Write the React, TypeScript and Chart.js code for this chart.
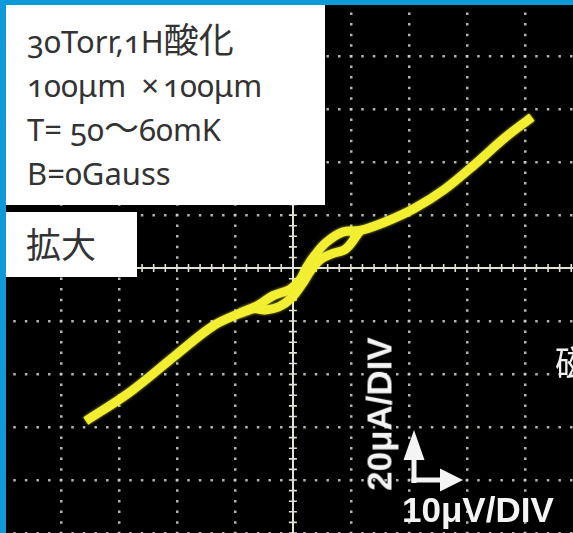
import React, { useEffect, useRef } from "react";
import { Chart, registerables } from "chart.js";

Chart.register(...registerables);

// Oscilloscope X-Y trace: X = voltage (μV), Y = current (μA)
const sweepUpVoltage = [-35.7, -28.1, -20.0, -13.8, -9.1, -6.2, -3.4, -0.5, 1.2, 2.4, 3.8, 5.7, 8.6, 11.6, 15.9, 21.0, 26.2, 31.4, 36.5, 41.2];
const sweepUpCurrent = [-57.7, -46.8, -32.5, -21.9, -17.0, -14.3, -10.4, -8.0, -4.5, 0.4, 4.9, 9.6, 13.6, 14.2, 17.4, 22.6, 29.8, 39.2, 49.1, 57.0];
const sweepDownVoltage = [11.6, 9.1, 6.7, 4.7, 3.1, 1.6, -0.2, -2.4, -4.8, -6.7, -9.1];
const sweepDownCurrent = [14.2, 7.2, 5.4, 3.2, -0.8, -6.0, -11.2, -14.6, -15.8, -15.3, -17.0];

// Graticule: 10 μV/DIV horizontally, 20 μA/DIV vertically
const voltsPerDiv = 10;
const ampsPerDiv = 20;
const minorPerDiv = 5;
const xWindow = [-50.5, 48.3];
const yWindow = [-100, 101.2];

// Texts
const noteLines = ["30Torr,1H酸化", "100μm×100μm", "T= 50〜60mK", "B=0Gauss"];
const zoomLabel = "拡大";
const yUnitLabel = "20μA/DIV";
const xUnitLabel = "10μV/DIV";
const sideLabel = "磁";

const TRACE = "#f2ee30";
const DOT = "rgba(205,205,198,0.88)";
const AXIS = "#e2e2d4";
const DOT_LEN = 2.5;

const isZero = (c: any) => c && c.tick && Math.abs(c.tick.value) < 1e-9;

function dashOffset(start: number, center: number, period: number, dot: number) {
  const r = (((center - start) % period) + period) % period;
  let o = period - (r - dot / 2);
  o = ((o % period) + period) % period;
  return o;
}

const scopePlugin = {
  id: "scopeAxes",
  beforeDatasetsDraw(chart: any) {
    const { ctx, scales } = chart;
    const x = scales.x;
    const y = scales.y;
    const x0 = x.getPixelForValue(0);
    const y0 = y.getPixelForValue(0);
    const tick = 4;
    ctx.save();
    ctx.strokeStyle = AXIS;
    ctx.lineWidth = 1.6;
    ctx.beginPath();
    const ys = ampsPerDiv / minorPerDiv;
    for (let k = Math.ceil(yWindow[0] / ys); k * ys <= yWindow[1]; k++) {
      const py = y.getPixelForValue(k * ys);
      ctx.moveTo(x0 - tick, py);
      ctx.lineTo(x0 + tick, py);
    }
    const xs = voltsPerDiv / minorPerDiv;
    for (let k = Math.ceil(xWindow[0] / xs); k * xs <= xWindow[1]; k++) {
      const px = x.getPixelForValue(k * xs);
      ctx.moveTo(px, y0 - tick);
      ctx.lineTo(px, y0 + tick);
    }
    ctx.stroke();
    ctx.restore();
  },
  beforeDatasetDraw(chart: any) {
    const ctx = chart.ctx;
    ctx.save();
    ctx.shadowColor = "rgba(255,250,90,0.75)";
    ctx.shadowBlur = 3;
  },
  afterDatasetDraw(chart: any) {
    chart.ctx.restore();
  },
};

function toPoints(xs: number[], ys: number[]) {
  return xs.map((v, i) => ({ x: v, y: ys[i] }));
}

const cjkRe = /([\u3000-\u9fff\uff00-\uffef]+|\u00d7)/;

function renderLine(text: string) {
  return text.split(cjkRe).map((part, i) => {
    if (part === "\u00d7") {
      return (
        <span key={i} style={{ margin: "0 4px 0 15px" }}>
          {part}
        </span>
      );
    }
    return cjkRe.test(part) ? (
      <span key={i} style={{ fontFamily: "'Noto Sans CJK JP', sans-serif", fontSize: 35, lineHeight: 1 }}>
        {part}
      </span>
    ) : (
      <span key={i}>{part}</span>
    );
  });
}

export default function App() {
  const canvasRef = useRef<HTMLCanvasElement | null>(null);

  useEffect(() => {
    if (!canvasRef.current) return;
    const traceStyle = {
      showLine: true,
      borderColor: TRACE,
      backgroundColor: TRACE,
      borderWidth: 9,
      tension: 0.35,
      pointRadius: 0,
      borderCapStyle: "butt" as const,
      borderJoinStyle: "round" as const,
      fill: false,
    };
    const chart = new Chart(canvasRef.current, {
      type: "scatter",
      data: {
        datasets: [
          { ...traceStyle, data: toPoints(sweepUpVoltage, sweepUpCurrent) },
          { ...traceStyle, data: toPoints(sweepDownVoltage, sweepDownCurrent) },
        ],
      },
      options: {
        animation: false,
        responsive: true,
        maintainAspectRatio: false,
        layout: { padding: 0 },
        plugins: { legend: { display: false }, tooltip: { enabled: false } },
        scales: {
          x: {
            type: "linear",
            min: xWindow[0],
            max: xWindow[1],
            ticks: { display: false, stepSize: voltsPerDiv, includeBounds: false },
            grid: {
              drawTicks: false,
              color: (c: any) => (isZero(c) ? AXIS : DOT),
              lineWidth: (c: any) => (isZero(c) ? 2 : 2.5),
            },
            border: {
              display: false,
              dash: (c: any) => {
                if (isZero(c)) return [];
                const y = c.chart.scales.y;
                const p = Math.abs(y.getPixelForValue(ampsPerDiv / minorPerDiv) - y.getPixelForValue(0));
                return [DOT_LEN, p - DOT_LEN];
              },
              dashOffset: (c: any) => {
                const y = c.chart.scales.y;
                const area = c.chart.chartArea;
                if (!y || !area) return 0;
                const p = Math.abs(y.getPixelForValue(ampsPerDiv / minorPerDiv) - y.getPixelForValue(0));
                return dashOffset(area.top, y.getPixelForValue(0), p, DOT_LEN);
              },
            },
          },
          y: {
            type: "linear",
            min: yWindow[0],
            max: yWindow[1],
            ticks: { display: false, stepSize: ampsPerDiv, includeBounds: false },
            grid: {
              drawTicks: false,
              color: (c: any) => (isZero(c) ? AXIS : DOT),
              lineWidth: (c: any) => (isZero(c) ? 2 : 2.5),
            },
            border: {
              display: false,
              dash: (c: any) => {
                if (isZero(c)) return [];
                const x = c.chart.scales.x;
                const p = Math.abs(x.getPixelForValue(voltsPerDiv / minorPerDiv) - x.getPixelForValue(0));
                return [DOT_LEN, p - DOT_LEN];
              },
              dashOffset: (c: any) => {
                const x = c.chart.scales.x;
                const area = c.chart.chartArea;
                if (!x || !area) return 0;
                const p = Math.abs(x.getPixelForValue(voltsPerDiv / minorPerDiv) - x.getPixelForValue(0));
                return dashOffset(area.left, x.getPixelForValue(0), p, DOT_LEN);
              },
            },
          },
        },
      },
      plugins: [scopePlugin],
    } as any);
    return () => chart.destroy();
  }, []);

  const blue = "#0e9ad9";
  const white = "#ffffff";
  const textColor = "#333333";

  return (
    <div
      style={{
        position: "absolute",
        left: 0,
        top: 0,
        width: 573,
        height: 533,
        background: "#000",
        overflow: "hidden",
      }}
    >
      <div style={{ position: "absolute", left: 0, top: 0, width: 573, height: 533 }}>
        <canvas ref={canvasRef} />
      </div>

      {/* frame */}
      <div style={{ position: "absolute", left: 0, top: 0, width: 6, height: 533, background: blue }} />
      <div style={{ position: "absolute", left: 0, top: 0, width: 573, height: 5, background: blue }} />

      {/* notes box */}
      <div style={{ position: "absolute", left: 6, top: 5, width: 319, height: 200, background: white }}>
        <div
          style={{
            position: "absolute",
            left: 21,
            top: 14,
            fontFamily: "'Noto Sans', 'Noto Sans CJK JP', sans-serif",
            fontSize: 31,
            lineHeight: "44px",
            color: textColor,
            whiteSpace: "pre",
            fontVariantNumeric: "oldstyle-nums",
          }}
        >
          {noteLines.map((l, i) => (
            <div key={i} style={{ height: 44 }}>
              {renderLine(l)}
            </div>
          ))}
        </div>
      </div>

      {/* zoom box */}
      <div style={{ position: "absolute", left: 6, top: 212, width: 131, height: 65, background: white }}>
        <div
          style={{
            position: "absolute",
            left: 20,
            top: 13,
            fontFamily: "'Noto Sans CJK JP', sans-serif",
            fontSize: 35,
            lineHeight: 1,
            color: textColor,
            whiteSpace: "pre",
          }}
        >
          {zoomLabel}
        </div>
      </div>

      {/* unit labels */}
      <div
        style={{
          position: "absolute",
          left: 379,
          top: 414,
          transform: "translate(-50%, -50%) rotate(-90deg)",
          fontFamily: "'Liberation Sans', Arial, sans-serif",
          fontWeight: 700,
          fontSize: 35,
          lineHeight: 1,
          color: "#f4f4f4",
          whiteSpace: "pre",
        }}
      >
        {yUnitLabel}
      </div>
      <div
        style={{
          position: "absolute",
          left: 402,
          top: 492,
          fontFamily: "'Liberation Sans', Arial, sans-serif",
          fontWeight: 700,
          fontSize: 35,
          lineHeight: 1,
          color: "#f4f4f4",
          whiteSpace: "pre",
        }}
      >
        {xUnitLabel}
      </div>
      <svg style={{ position: "absolute", left: 0, top: 0 }} width={573} height={533}>
        <rect x={411.5} y={455} width={5} height={28} fill="#f4f4f4" />
        <polygon points="414,430 403.5,460 424.5,460" fill="#f4f4f4" />
        <rect x={411.5} y={477.5} width={31} height={5} fill="#f4f4f4" />
        <polygon points="463,480 440,468.5 440,491.5" fill="#f4f4f4" />
      </svg>

      <div
        style={{
          position: "absolute",
          left: 555,
          top: 343,
          fontFamily: "'Noto Sans CJK JP', sans-serif",
          fontSize: 35,
          lineHeight: 1,
          color: "#f0f0f0",
          whiteSpace: "pre",
        }}
      >
        {sideLabel}
      </div>
    </div>
  );
}
